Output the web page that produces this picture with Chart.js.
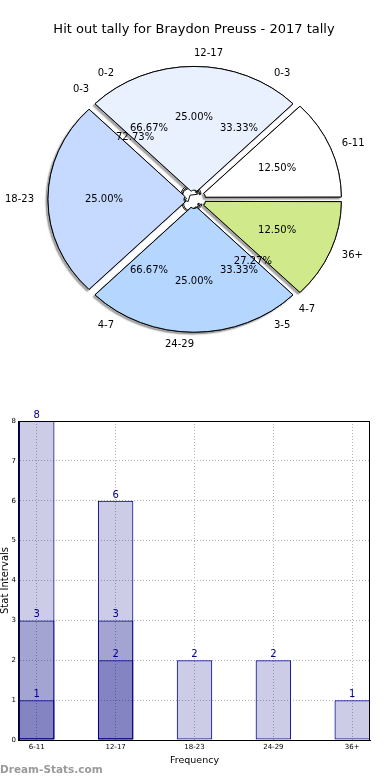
<!DOCTYPE html>
<html>
<head>
<meta charset="utf-8">
<script src="https://cdn.jsdelivr.net/npm/chart.js@4.4.1/dist/chart.umd.min.js"></script>
<style>
  html, body { margin: 0; padding: 0; background: #fff; }
  #page { position: relative; width: 390px; height: 780px; overflow: hidden; }
  .box { position: absolute; left: 0; width: 390px; height: 390px; }
  #pieBox { top: 0; }
  #barBox { top: 390px; }
  #mark { position: absolute; left: 0; top: 763px; font: bold 10.5px "DejaVu Sans", sans-serif; color: #9a9a9a; }
</style>
</head>
<body>
<div id="page">
  <div class="box" id="pieBox"><canvas id="pie"></canvas></div>
  <div class="box" id="barBox"><canvas id="bars"></canvas></div>
  <div id="mark">Dream-Stats.com</div>
</div>
<script>
// ── Data ──────────────────────────────────────────────────
const titleText = 'Hit out tally for Braydon Preuss - 2017 tally';
const groups = ['6-11', '12-17', '18-23', '24-29', '36+'];
const groupShare = [1, 2, 2, 2, 1];
const groupColors = ['#ffffff', '#eaf1fe', '#c6daff', '#b4d6ff', '#d0e98b'];

// the three little pies squeezed into the middle
const pieA_labels = ['0-2', '3-5'];
const pieA_values = [2, 1];
const pieB_labels = ['0-3', '4-7'];
const pieB_values = [1, 2];
const pieC_labels = ['0-3', '4-7'];
const pieC_values = [8, 3];

// bar chart (three overlapping series)
const tallyAll = [8, 6, 2, 2, 1];
const tallyMid = [3, 3, 0, 0, 0];
const tallyLow = [1, 2, 0, 0, 0];
const yMax = 8;

// ── Pie ───────────────────────────────────────────────────
const FONT = 'DejaVu Sans';
const SQUASH = 0.91;   // pie is drawn a bit flatter than wide
const EXPLODE = 24;    // Chart.js shifts a slice by offset / 4

// matplotlib goes counter-clockwise, Chart.js clockwise: flip the order
function pieSet(labels, values, colors, weight) {
    return {
        data: values.slice().reverse(),
        sliceLabels: labels.slice().reverse(),
        backgroundColor: colors.slice().reverse(),
        borderColor: '#000',
        borderWidth: 1,
        offset: EXPLODE,
        weight: weight,
        clip: false
    };
}

const squash = {
    id: 'squash',
    beforeDatasetsDraw(chart) {
        const ctx = chart.ctx;
        const arc0 = chart.getDatasetMeta(0).data[0];
        ctx.save();
        ctx.translate(arc0.x, arc0.y);
        ctx.scale(1, SQUASH);
        ctx.translate(-arc0.x, -arc0.y);
        // shadow pass, the real slices are painted over it
        ctx.save();
        ctx.shadowColor = 'rgba(0,0,0,0.35)';
        ctx.shadowOffsetX = -2;
        ctx.shadowOffsetY = 2;
        ctx.shadowBlur = 1.5;
        chart.getDatasetMeta(0).data.forEach(a => a.draw(ctx));
        ctx.restore();
    },
    afterDatasetsDraw(chart) {
        chart.ctx.restore();
    }
};

const pieText = {
    id: 'pieText',
    afterDraw(chart) {
        const ctx = chart.ctx;
        const R = chart.getDatasetMeta(0).data[0].outerRadius;
        ctx.save();
        ctx.font = '10px "' + FONT + '"';
        ctx.fillStyle = '#000';
        ctx.textBaseline = 'middle';
        chart.data.datasets.forEach((ds, di) => {
            const meta = chart.getDatasetMeta(di);
            const total = ds.data.reduce((a, b) => a + b, 0);
            meta.data.forEach((arc, i) => {
                const mid = (arc.startAngle + arc.endAngle) / 2;
                const ex = arc.options.offset / 4;
                const c = Math.cos(mid), s = Math.sin(mid);
                const pr = ex + 0.6 * R;
                ctx.textAlign = 'center';
                ctx.fillText((ds.data[i] / total * 100).toFixed(2) + '%', arc.x + pr * c, arc.y + SQUASH * pr * s);
                const lr = ex + 1.1 * R;
                let left = c > 0;
                if (Math.abs(c) < 1e-6) left = s < 0;
                ctx.textAlign = left ? 'left' : 'right';
                ctx.fillText(ds.sliceLabels[i], arc.x + lr * c, arc.y + SQUASH * lr * s);
            });
        });
        ctx.restore();
    }
};

new Chart(document.getElementById('pie'), {
    type: 'pie',
    data: {
        labels: groups.slice().reverse(),
        datasets: [
            pieSet(groups, groupShare, groupColors, 1),
            pieSet(pieA_labels, pieA_values, ['#ffffff', '#ffffff'], 0.01),
            pieSet(pieB_labels, pieB_values, ['#ffffff', '#ffffff'], 0.01),
            pieSet(pieC_labels, pieC_values, ['#ffffff', '#ffffff'], 0.01)
        ]
    },
    options: {
        responsive: true,
        maintainAspectRatio: false,
        animation: false,
        radius: 140,
        rotation: 90,
        layout: { padding: { left: 0, right: 2, top: 0, bottom: 29 } },
        plugins: {
            legend: { display: false },
            tooltip: { enabled: false },
            title: {
                display: true,
                text: titleText,
                color: '#000',
                font: { family: FONT, size: 13, weight: 'normal' },
                padding: { top: 22, bottom: 0 }
            }
        }
    },
    plugins: [squash, pieText]
});

// ── Bars ──────────────────────────────────────────────────
function barSet(values) {
    return {
        data: values.map((v, i) => ({ x: i, y: v })),
        backgroundColor: 'rgba(0,0,128,0.2)',
        borderColor: '#000080',
        borderWidth: c => (c.raw && c.raw.y ? 1 : 0),
        borderSkipped: false
    };
}

const frame = {
    id: 'frame',
    afterDatasetsDraw(chart) {
        const { ctx, chartArea: a } = chart;
        ctx.save();
        ctx.strokeStyle = '#000';
        ctx.lineWidth = 1;
        ctx.strokeRect(Math.round(a.left) - 0.5, Math.round(a.top) + 0.5, Math.round(a.right - a.left), Math.round(a.bottom - a.top));
        ctx.restore();
    }
};

const barText = {
    id: 'barText',
    afterDatasetsDraw(chart) {
        const ctx = chart.ctx;
        ctx.save();
        ctx.font = '10px "' + FONT + '"';
        ctx.fillStyle = '#00008b';
        ctx.textAlign = 'center';
        ctx.textBaseline = 'alphabetic';
        chart.data.datasets.forEach((ds, di) => {
            chart.getDatasetMeta(di).data.forEach((bar, i) => {
                const v = ds.data[i].y;
                if (!v) return;
                ctx.fillText(String(v), bar.x, bar.y - 3);
            });
        });
        ctx.restore();
    }
};

const gridLook = { color: '#b4b4b4', lineWidth: 1, drawTicks: false, offset: false };
const borderLook = { color: '#000', dash: [1, 2] };

new Chart(document.getElementById('bars'), {
    type: 'bar',
    data: {
        datasets: [barSet(tallyAll), barSet(tallyMid), barSet(tallyLow)]
    },
    options: {
        responsive: true,
        maintainAspectRatio: false,
        animation: false,
        categoryPercentage: 0.45,
        barPercentage: 1,
        layout: { padding: { left: 0, right: 20, top: 31, bottom: 0 } },
        plugins: { legend: { display: false }, tooltip: { enabled: false } },
        scales: {
            x: {
                type: 'linear',
                stacked: true,
                offset: false,
                min: -0.225,
                max: 4.225,
                afterFit: s => { s.height = 40; },
                ticks: {
                    stepSize: 1,
                    includeBounds: false,
                    autoSkip: false,
                    maxRotation: 0,
                    padding: 3,
                    color: '#000',
                    font: { family: FONT, size: 7 },
                    callback: v => groups[v] ?? ''
                },
                grid: gridLook,
                border: borderLook,
                title: {
                    display: true,
                    text: 'Frequency',
                    color: '#000',
                    font: { family: FONT, size: 9.5 },
                    padding: { top: 0, bottom: 14 }
                }
            },
            y: {
                min: 0,
                max: yMax,
                stacked: false,
                afterFit: s => { s.width = 19; },
                ticks: {
                    stepSize: 1,
                    padding: 3,
                    color: '#000',
                    font: { family: FONT, size: 7 }
                },
                grid: gridLook,
                border: borderLook,
                title: {
                    display: true,
                    text: 'Stat Intervals',
                    color: '#000',
                    font: { family: FONT, size: 10 },
                    padding: { top: -1, bottom: 0 }
                }
            }
        }
    },
    plugins: [frame, barText]
});
</script>
</body>
</html>
